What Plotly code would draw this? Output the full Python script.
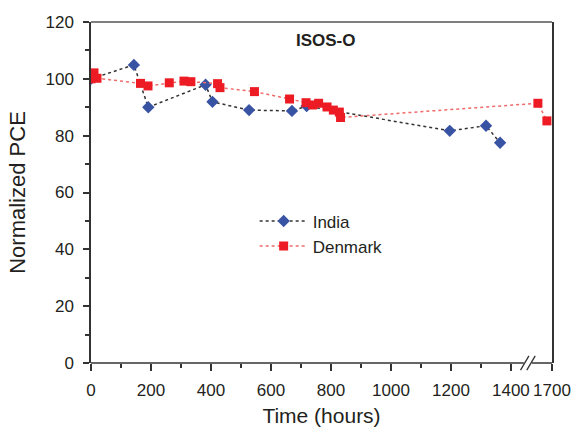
import plotly.graph_objects as go

# Outdoor stability (ISOS-O): normalized PCE vs. time, two test sites
india_hours = [0, 143, 191, 382, 405, 527, 670, 719, 1196, 1317, 1364]
india_pce = [100, 104.9, 90.0, 97.9, 91.9, 89.0, 88.7, 90.4, 81.7, 83.5, 77.5]

denmark_hours = [0, 10, 20, 165, 190, 261, 310, 333, 422, 430, 545,
                 662, 717, 739, 759, 787, 808, 828, 832, 1653, 1683]
denmark_pce = [100, 102.1, 100.2, 98.4, 97.5, 98.6, 99.2, 99.0, 98.3, 96.9, 95.5,
               92.9, 91.6, 90.8, 91.4, 90.1, 89.0, 88.3, 86.4, 91.4, 85.2]

major_ticks = [0, 200, 400, 600, 800, 1000, 1200, 1400, 1700]
minor_ticks = [100, 300, 500, 700, 900, 1100, 1300]

# Broken x axis: everything past the break is shifted left by SHIFT hours
BREAK_AT = 1500
SHIFT = 163
X_END = 1700


def to_axis(t):
    return t - SHIFT if t > BREAK_AT else t


def to_axis_list(ts):
    return [to_axis(t) for t in ts]


FONT = "Liberation Sans, Arial, sans-serif"
INK = "#231f20"
AX = "#333333"

fig = go.Figure()
fig.add_trace(go.Scatter(
    x=to_axis_list(india_hours), y=india_pce, name="India",
    mode="lines+markers",
    line=dict(color="#333333", width=1.5, dash="dot"),
    marker=dict(symbol="diamond", size=9.5, color="#3953a4"),
))
fig.add_trace(go.Scatter(
    x=to_axis_list(denmark_hours), y=denmark_pce, name="Denmark",
    mode="lines+markers",
    line=dict(color="#f06a6a", width=1.5, dash="dot"),
    marker=dict(symbol="square", size=9, color="#ed1c24"),
))

x_end = to_axis(X_END)
gap_lo, gap_hi = 1443, 1470  # axis-line gap where the break marks sit

shapes = [
    # bottom axis line, split at the break
    dict(type="line", xref="x", yref="paper", x0=0, x1=gap_lo, y0=0, y1=0,
         line=dict(color=AX, width=1.5)),
    dict(type="line", xref="x", yref="paper", x0=gap_hi, x1=x_end, y0=0, y1=0,
         line=dict(color=AX, width=1.5)),
    # top frame line
    dict(type="line", xref="paper", yref="paper", x0=0, x1=1, y0=1, y1=1,
         line=dict(color="#555555", width=1.5)),
]
# the two break slashes
for cx in (gap_lo + 3, gap_hi - 3):
    shapes.append(dict(type="line", xref="x", yref="paper",
                       x0=cx - 14, x1=cx + 14, y0=-0.021, y1=0.021,
                       line=dict(color=AX, width=1.3)))

fig.update_layout(
    width=573, height=427,
    margin=dict(l=91, r=21, t=22, b=64),
    paper_bgcolor="white", plot_bgcolor="white",
    font=dict(family=FONT, color=INK, size=17),
    showlegend=True,
    legend=dict(x=0.355, y=0.468, xanchor="left", yanchor="top",
                bgcolor="rgba(0,0,0,0)", font=dict(size=17, color=INK),
                itemwidth=48, tracegroupgap=0),
    shapes=shapes,
    annotations=[dict(text="<b>ISOS-O</b>", xref="paper", yref="paper",
                      x=0.51, y=0.945, xanchor="center", yanchor="middle",
                      showarrow=False, font=dict(size=17, color=INK))],
)

fig.update_xaxes(
    range=[0, x_end], automargin=False,
    showgrid=False, zeroline=False, showline=False,
    tickmode="array", tickvals=to_axis_list(major_ticks),
    ticktext=[str(t) for t in major_ticks],
    ticks="outside", ticklen=7, tickwidth=1.5, tickcolor=AX,
    ticklabelstandoff=5,
    tickfont=dict(size=17, color=INK),
    minor=dict(tickmode="array", tickvals=minor_ticks, ticks="outside",
               ticklen=4, tickwidth=1.5, tickcolor=AX),
    title=dict(text="Time (hours)", font=dict(size=21, color=INK), standoff=10),
)
fig.update_yaxes(
    range=[0, 120], automargin=False,
    showgrid=False, zeroline=False,
    showline=True, linecolor=AX, linewidth=1.5, mirror=True,
    tickmode="array", tickvals=[0, 20, 40, 60, 80, 100, 120],
    ticks="outside", ticklen=6, tickwidth=1.5, tickcolor=AX,
    ticklabelstandoff=6,
    tickfont=dict(size=17, color=INK),
    minor=dict(tickmode="array", tickvals=[10, 30, 50, 70, 90, 110],
               ticks="outside", ticklen=4, tickwidth=1.5, tickcolor=AX),
    title=dict(text="Normalized PCE", font=dict(size=22, color=INK), standoff=14),
)

fig.write_html("out.html")
